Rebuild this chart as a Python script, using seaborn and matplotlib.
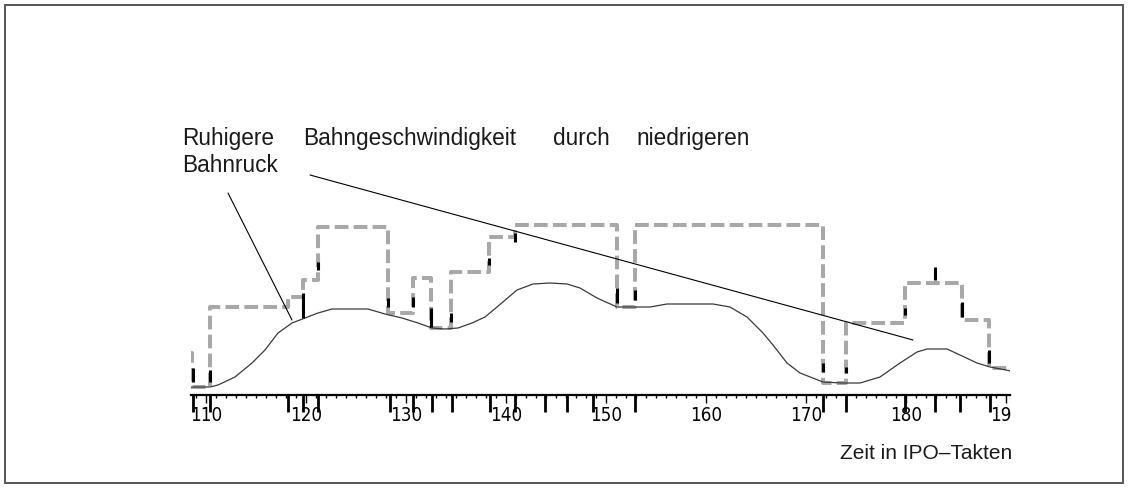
import numpy as np
import pandas as pd
import matplotlib
matplotlib.use("Agg")
import matplotlib.pyplot as plt
from matplotlib.lines import Line2D
from matplotlib.patches import Rectangle
from matplotlib.ticker import MultipleLocator, FixedLocator
from matplotlib.transforms import Bbox, TransformedBbox
import seaborn as sns

# --- data -------------------------------------------------------------
# smooth path velocity (lower jerk)
curve_x = [108.5, 110.4, 111.2, 112.9, 114.6, 115.9, 117.2, 118.6, 119.9, 121.2,
           122.6, 124.4, 126.2, 127.9, 129.6, 131.2, 132.6, 133.9, 135.2, 136.6,
           137.9, 139.1, 141.1, 142.7, 144.4, 146.1, 147.4, 149.1, 151.1, 152.8,
           154.4, 156.1, 158.4, 160.7, 162.4, 164.1, 165.7, 166.7, 168.1,
           169.4, 171.7, 173.6, 175.4, 177.4, 179.4, 181.1, 182.1, 183.1, 184.1,
           185.4, 187.1, 188.4, 190.5]
curve_y = [0.8, 0.8, 1.0, 1.8, 3.2, 4.5, 6.2, 7.2, 7.7, 8.2,
           8.6, 8.6, 8.6, 8.1, 7.7, 7.2, 6.7, 6.6, 6.7, 7.2,
           7.8, 8.8, 10.5, 11.1, 11.2, 11.1, 10.7, 9.7, 8.8, 8.8,
           8.8, 9.1, 9.1, 9.1, 8.8, 7.8, 6.2, 5.0, 3.2,
           2.2, 1.3, 1.2, 1.2, 1.8, 3.2, 4.3, 4.6, 4.6, 4.6,
           4.0, 3.2, 2.8, 2.4]

# stepwise path velocity (higher jerk), value holds until the next change
step_x = [108.2, 108.6, 110.4, 118.2, 119.7, 121.2, 128.2, 130.7, 132.5, 134.5,
          138.3, 140.9, 151.1, 152.9, 171.7, 174.0, 179.9, 185.6, 188.3, 190.8]
step_y = [4.2, 0.8, 8.8, 9.8, 11.5, 16.8, 8.2, 11.7, 6.7, 12.3,
          15.8, 17.0, 8.8, 17.0, 1.2, 7.2, 11.2, 7.5, 2.7, 2.7]

# block change markers on the stepped profile
mark_x = [108.7, 110.4, 119.7, 121.2, 128.2, 130.7, 132.5, 134.5, 138.3, 140.9,
          151.1, 152.9, 171.7, 174.0, 179.9, 182.9, 185.6, 188.3]
mark_lo = [1.3, 1.3, 7.7, 12.5, 8.8, 8.8, 6.8, 7.3, 13.0, 15.3,
           9.2, 9.5, 2.3, 2.2, 8.0, 11.5, 7.8, 3.2]
mark_hi = [2.7, 2.5, 10.2, 13.3, 9.7, 9.8, 8.7, 8.2, 13.7, 16.2,
           10.7, 10.5, 3.2, 2.8, 8.7, 12.8, 9.3, 4.5]

# IPO cycles with an event, marked on the time axis
event_x = [108.7, 110.4, 118.2, 119.7, 121.2, 128.4, 130.7, 132.6, 134.6, 138.4,
           140.9, 143.9, 146.1, 148.7, 152.9, 171.7, 174.0, 179.9, 182.9, 185.4,
           188.4]

major_ticks = [110, 120, 130, 140, 150, 160, 170, 180, 190]
tick_labels = ["110", "120", "130", "140", "150", "160", "170", "180", "190"]

annot_line1 = ["Ruhigere", "Bahngeschwindigkeit", "durch", "niedrigeren"]
annot_line2 = "Bahnruck"
xlabel_text = "Zeit in IPO\u2013Takten"

# --- figure -----------------------------------------------------------
sns.set_theme(style="white")
plt.rcParams["font.family"] = ["Liberation Sans", "DejaVu Sans"]

W, H = 1128, 488
fig = plt.figure(figsize=(W / 100, H / 100), dpi=100)
fig.patch.set_facecolor("white")

def px(x, y):
    return x / W, 1 - y / H

ax_left, ax_right, ax_bottom_px, ax_top_px = 191, 1010, 395, 200
ax = fig.add_axes([ax_left / W, 1 - ax_bottom_px / H,
                   (ax_right - ax_left) / W, (ax_bottom_px - ax_top_px) / H])
ax.set_facecolor("none")
ax.set_xlim(108.5, 190.4)
ax.set_ylim(0, 19.5)

df_step = pd.DataFrame({"t": step_x, "v": step_y})
df_curve = pd.DataFrame({"t": curve_x, "v": curve_y})

sns.lineplot(data=df_step, x="t", y="v", ax=ax, estimator=None, sort=False,
             drawstyle="steps-post", color="#a8a8a8", linewidth=2.9,
             dashes=False, linestyle=(0, (3.4, 1.3)))
sns.lineplot(data=df_curve, x="t", y="v", ax=ax, estimator=None, sort=False,
             color="#3a3a3a", linewidth=0.9)

ax.vlines(mark_x, mark_lo, mark_hi, colors="black", linewidth=2.2, zorder=5)

# event ticks below the time axis
ax.vlines(event_x, 0, -17 / (ax_bottom_px - ax_top_px), colors="black",
          linewidth=2.0, transform=ax.get_xaxis_transform(), clip_on=False)

# axis styling
for side in ["top", "left", "right"]:
    ax.spines[side].set_visible(False)
ax.spines["bottom"].set_color("black")
ax.spines["bottom"].set_linewidth(1.6)
ax.set_yticks([])
ax.xaxis.set_major_locator(FixedLocator(major_ticks))
ax.xaxis.set_minor_locator(MultipleLocator(1))
ax.set_xticklabels(tick_labels)
ax.tick_params(axis="x", which="major", direction="out", length=5.8, width=1.0,
               color="black", pad=2.2, labelsize=13.5, labelcolor="black",
               bottom=True)
ax.tick_params(axis="x", which="minor", direction="out", length=2.2, width=1.0,
               color="black", bottom=True)
ax.set_xlabel("")
ax.set_ylabel("")

# clip tick labels at the right end of the axis
clip_box = TransformedBbox(Bbox([[-0.2, -1.0], [1.002, 1.0]]), ax.transAxes)
for tk in ax.xaxis.get_major_ticks():
    tk.label1.set_fontfamily("DejaVu Sans")
    tk.label1.set_fontstretch("condensed")
    tk.label1.set_clip_on(True)
    tk.label1.set_clip_box(clip_box)

# axis caption
fig.text(*px(1012, 459), xlabel_text, ha="right", va="baseline",
         fontsize=15, color="#1a1a1a")

# annotation text, justified first line
word_x = [181.7, 303.3, 553.0, 636.7]
for wx, word in zip(word_x, annot_line1):
    fig.text(*px(wx, 145), word, ha="left", va="baseline", fontsize=16.3,
             color="#1a1a1a")
fig.text(*px(181.7, 171.7), annot_line2, ha="left", va="baseline",
         fontsize=16.3, color="#1a1a1a")

# leader lines
for (x0, y0), (x1, y1) in [((228, 193), (292, 320)), ((310, 175), (913, 340))]:
    a, b = px(x0, y0)
    c, d = px(x1, y1)
    fig.add_artist(Line2D([a, c], [b, d], transform=fig.transFigure,
                          color="black", linewidth=0.8))

# outer frame
fig.add_artist(Rectangle(px(5, 483), (1123 - 5) / W, (483 - 5) / H,
                         transform=fig.transFigure, fill=False,
                         edgecolor="#555555", linewidth=1.4))

fig.savefig("out.png", dpi=100, facecolor="white")
